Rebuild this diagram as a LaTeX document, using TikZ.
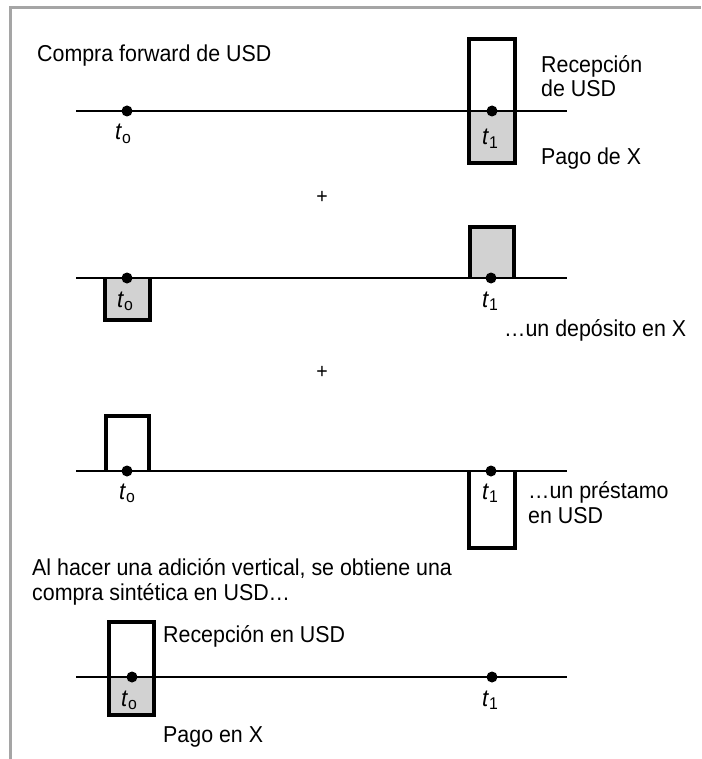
\documentclass[tikz,border=0pt]{standalone}
\usepackage{fontspec}
\setmainfont{Liberation Sans}[FakeStretch=0.93]
\definecolor{boxgray}{RGB}{210,210,210}
\definecolor{framegray}{RGB}{165,165,165}
\newcommand{\tsub}[1]{{\fontsize{24}{24}\selectfont\textit{t}\raisebox{-3.5pt}{\fontsize{17}{17}\selectfont #1}}}
\begin{document}
\begin{tikzpicture}[x=1pt,y=-1pt,
  axisline/.style={line width=1.4pt},
  boxline/.style={line width=4pt, line join=miter},
  dot/.style={circle,fill=black,inner sep=0pt,minimum size=11pt},
  lbl/.style={anchor=base west,inner sep=0pt,font=\fontsize{23}{25}\selectfont},
  tl/.style={anchor=base,inner sep=0pt},
  plus/.style={inner sep=0pt,font=\fontsize{21}{25}\selectfont}]
\useasboundingbox (0,0) rectangle (701,759);
\draw[framegray,line width=3pt] (10,759) -- (10,8) -- (701,8);

% ---------- Row 1 ----------
\fill[boxgray] (469,111) rectangle (515,163);
\coordinate (a1l) at (76,111); \coordinate (a1r) at (567,111);
\draw[axisline] (a1l) -- (a1r);
\draw[boxline] (469,39) rectangle (515,163);
\node[dot] (d10) at (127,111) {};
\node[dot] (d11) at (492,111) {};
\node[tl] (t10) at (123,140) {\tsub{o}};
\node[tl] (t11) at (490,145) {\tsub{1}};
\node[lbl] (title) at (37,62) {Compra forward de USD};
\node[lbl] (rec1) at (541,73) {Recepción};
\node[lbl] (rec1b) at (541,97) {de USD};
\node[lbl] (pago1) at (541,165) {Pago de X};
\node[plus] (p1) at (322,197) {+};

% ---------- Row 2 ----------
\fill[boxgray] (470,227) rectangle (514,278);
\fill[boxgray] (105,278) rectangle (150,320);
\coordinate (a2l) at (76,278); \coordinate (a2r) at (567,278);
\draw[axisline] (a2l) -- (a2r);
\draw[boxline] (470,278) -- (470,227) -- (514,227) -- (514,278);
\draw[boxline] (105,278) -- (105,320) -- (150,320) -- (150,278);
\node[dot] (d20) at (127,278) {};
\node[dot] (d21) at (491,278) {};
\node[tl] (t20) at (125,307) {\tsub{o}};
\node[tl] (t21) at (490,307) {\tsub{1}};
\node[lbl] (dep) at (504,336) {…un depósito en X};
\node[plus] (p2) at (322,372) {+};

% ---------- Row 3 ----------
\coordinate (a3l) at (76,471); \coordinate (a3r) at (567,471);
\draw[axisline] (a3l) -- (a3r);
\draw[boxline] (106,471) -- (106,416) -- (149,416) -- (149,471);
\draw[boxline] (469,471) -- (469,548) -- (515,548) -- (515,471);
\node[dot] (d30) at (127,471) {};
\node[dot] (d31) at (491,471) {};
\node[tl] (t30) at (127,499) {\tsub{o}};
\node[tl] (t31) at (490,499) {\tsub{1}};
\node[lbl] (pre) at (528,498) {…un préstamo};
\node[lbl] (preb) at (528,523) {en USD};
\node[lbl] (sum1) at (32,575) {Al hacer una adición vertical, se obtiene una};
\node[lbl] (sum2) at (32,600) {compra sintética en USD…};

% ---------- Row 4 ----------
\fill[boxgray] (109,677) rectangle (154,715);
\coordinate (a4l) at (76,677); \coordinate (a4r) at (567,677);
\draw[axisline] (a4l) -- (a4r);
\draw[boxline] (109,622) rectangle (154,715);
\node[dot] (d40) at (132,677) {};
\node[dot] (d41) at (492,677) {};
\node[tl] (t40) at (129,706) {\tsub{o}};
\node[tl] (t41) at (490,706) {\tsub{1}};
\node[lbl] (rec4) at (163,642) {Recepción en USD};
\node[lbl] (pago4) at (163,742) {Pago en X};
\end{tikzpicture}
\end{document}
